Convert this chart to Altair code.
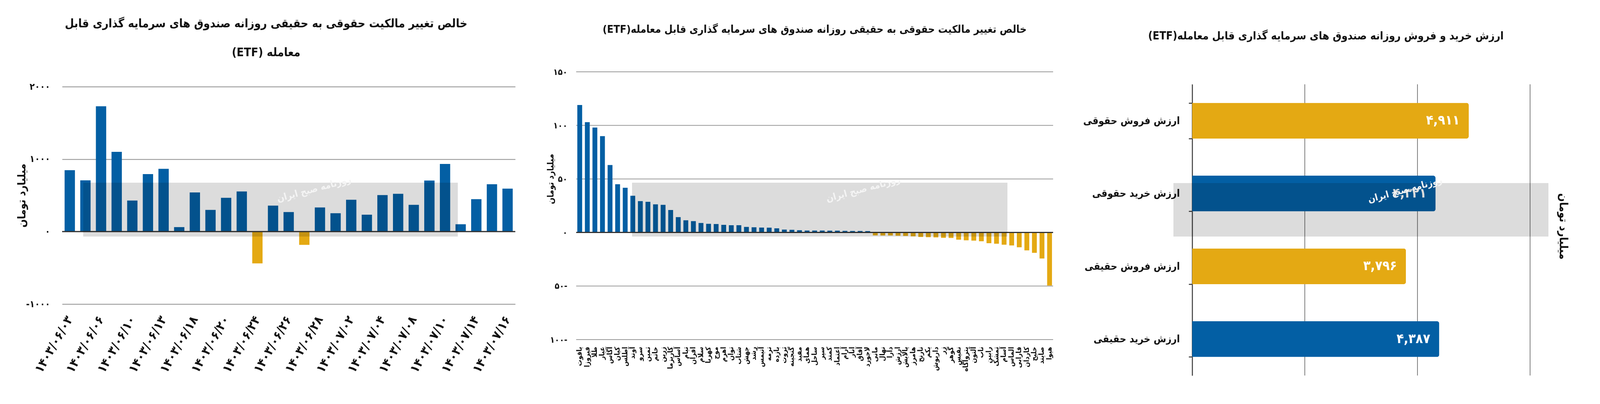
import altair as alt
import pandas as pd

FONT = "DejaVu Sans Condensed, DejaVu Sans, sans-serif"
BLUE = "#035fa4"
GOLD = "#e4a913"
RLE, PDF = "\u202b", "\u202c"

# ---------------- panel 1 : daily net change (by date) ----------------
DATES = ["۱۴۰۳/۰۶/۰۳", "۱۴۰۳/۰۶/۰۵", "۱۴۰۳/۰۶/۰۶", "۱۴۰۳/۰۶/۰۷", "۱۴۰۳/۰۶/۱۰",
         "۱۴۰۳/۰۶/۱۱", "۱۴۰۳/۰۶/۱۳", "۱۴۰۳/۰۶/۱۷", "۱۴۰۳/۰۶/۱۸", "۱۴۰۳/۰۶/۱۹",
         "۱۴۰۳/۰۶/۲۰", "۱۴۰۳/۰۶/۲۱", "۱۴۰۳/۰۶/۲۴", "۱۴۰۳/۰۶/۲۵", "۱۴۰۳/۰۶/۲۶",
         "۱۴۰۳/۰۶/۲۷", "۱۴۰۳/۰۶/۲۸", "۱۴۰۳/۰۶/۳۱", "۱۴۰۳/۰۷/۰۲", "۱۴۰۳/۰۷/۰۳",
         "۱۴۰۳/۰۷/۰۴", "۱۴۰۳/۰۷/۰۷", "۱۴۰۳/۰۷/۰۸", "۱۴۰۳/۰۷/۰۹", "۱۴۰۳/۰۷/۱۰",
         "۱۴۰۳/۰۷/۱۱", "۱۴۰۳/۰۷/۱۴", "۱۴۰۳/۰۷/۱۵", "۱۴۰۳/۰۷/۱۶"]
NET_DAILY = [847, 707, 1730, 1100, 428, 794, 866, 62, 541, 300, 466, 554, -439, 358, 270,
             -183, 333, 254, 439, 234, 504, 522, 370, 705, 933, 102, 448, 654, 593]
DATE_TICKS = ["۱۴۰۳/۰۶/۰۳", "۱۴۰۳/۰۶/۰۶", "۱۴۰۳/۰۶/۱۰", "۱۴۰۳/۰۶/۱۳", "۱۴۰۳/۰۶/۱۸",
              "۱۴۰۳/۰۶/۲۰", "۱۴۰۳/۰۶/۲۴", "۱۴۰۳/۰۶/۲۶", "۱۴۰۳/۰۶/۲۸", "۱۴۰۳/۰۷/۰۲",
              "۱۴۰۳/۰۷/۰۴", "۱۴۰۳/۰۷/۰۸", "۱۴۰۳/۰۷/۱۰", "۱۴۰۳/۰۷/۱۴", "۱۴۰۳/۰۷/۱۶"]
Y1_TICKS = [-1000, 0, 1000, 2000]
Y1_LABELS = ["-۱۰۰۰", "۰", "۱۰۰۰", "۲۰۰۰"]
TITLE1 = ["خالص تغییر مالکیت حقوقی به حقیقی روزانه صندوق های سرمایه گذاری قابل",
          RLE + "معامله (ETF)" + PDF]

# ---------------- panel 2 : net change by fund ----------------
FUNDS = ["یاقوت", "فیروزا", "طلا", "عیار", "آگاس", "کیان", "اطلس", "آوند", "سرو", "ثمین",
         "خاتم", "زرین", "کاریزما", "آساس", "تیام", "افران", "سلام", "کهربا", "موج", "اهرم",
         "توان", "شتاب", "جهش", "رشد", "آتیمس", "ترمه", "بازده", "ثروت", "گنجینه", "مفید",
         "همای", "ساحل", "سپر", "کمند", "اعتماد", "آرام", "انار", "آفاق", "لاجورد", "مانی",
         "نهال", "دارا", "ارزش", "پالایش", "هامرز", "نارنج", "یکم", "داریوش", "زر", "گوهر",
         "نفیس", "پتروآگاه", "آلتون", "ناب", "رابین", "تمشک", "آسام", "الماس", "فارابی",
         "کاردان", "خلیج", "صایند", "هیوا"]
FUND_NET = [119, 103, 98, 90, 63, 45, 41.8, 34.3, 29.3, 28.6, 26.3, 25.8, 21, 14.3, 11.4,
            10.6, 8.9, 8.1, 7.9, 7.1, 6.8, 6.8, 5.2, 4.9, 4.6, 4.5, 3.9, 2.7, 2.5, 2.1,
            1.8, 1.8, 1.8, 1.7, 1.7, 1.5, 1.4, 1.4, 1.3,
            -2.7, -2.8, -2.8, -3.0, -3.2, -3.6, -4.2, -4.4, -4.6, -5.0, -5.1, -6.7, -7.3,
            -7.6, -8.2, -10.0, -10.5, -11.4, -12.1, -13.8, -16.7, -19.0, -24.3, -49.5]
Y2_TICKS = [-100, -50, 0, 50, 100, 150]
Y2_LABELS = ["۱۰۰-", "۵۰-", "۰", "۵۰", "۱۰۰", "۱۵۰"]
TITLE2 = RLE + "خالص تغییر مالکیت حقوقی به حقیقی روزانه صندوق های سرمایه گذاری قابل معامله(ETF)" + PDF

# ---------------- panel 3 : buy / sell values ----------------
CATS = ["ارزش فروش حقوقی", "ارزش خرید حقوقی", "ارزش فروش حقیقی", "ارزش خرید حقیقی"]
KINDS = ["فروش", "خرید", "فروش", "خرید"]
VALUES = [4911, 4321, 3796, 4387]
VALUE_LABELS = ["۴,۹۱۱", "۴,۳۲۱", "۳,۷۹۶", "۴,۳۸۷"]
X3_TICKS = [0, 2000, 4000, 6000]
TITLE3 = RLE + "ارزش خرید و فروش روزانه صندوق های سرمایه گذاری قابل معامله(ETF)" + PDF

UNIT = "میلیارد تومان"
STAMP = "روزنامه صبح ایران"

NO_VIEW = alt.ViewBackground(stroke="transparent", strokeWidth=0)


def label_expr(values, labels):
    expr = "''"
    for v, l in reversed(list(zip(values, labels))):
        expr = f"datum.value == {v} ? '{l}' : ({expr})"
    return expr


def watermark(x, x2, y, y2, sx, sy):
    one = pd.DataFrame({"k": [0]})
    rect = alt.Chart(one).mark_rect(fill="#dcdcdc", blend="multiply").encode(
        x=alt.value(x), x2=alt.value(x2), y=alt.value(y), y2=alt.value(y2))
    stamp = alt.Chart(one).mark_text(text=STAMP, angle=345, color="#f4f4f4", fontSize=24,
                                     font=FONT, fontWeight="bold").encode(
        x=alt.value(sx), y=alt.value(sy))
    return [rect, stamp]


sign_color = alt.condition(alt.datum.value < 0, alt.value(GOLD), alt.value(BLUE))

# ---- panel 1  (plot x 159..1319, rows 184..779; 2000 sits at 222)
df1 = pd.DataFrame({"date": DATES, "value": NET_DAILY})
bars1 = alt.Chart(df1).mark_bar().encode(
    x=alt.X("date:N", sort=DATES, scale=alt.Scale(paddingInner=0.34, paddingOuter=0.16),
            axis=alt.Axis(values=DATE_TICKS, labelAngle=300, labelAlign="right",
                          labelBaseline="middle", labelFontSize=32, labelPadding=33,
                          domain=False, ticks=False, grid=False, title=None,
                          labelOverlap=False, labelLimit=400)),
    y=alt.Y("value:Q", scale=alt.Scale(domain=[-1000, 2000], nice=False, range=[595, 38]),
            axis=alt.Axis(values=Y1_TICKS, labelExpr=label_expr(Y1_TICKS, Y1_LABELS),
                          grid=True, gridColor="#8e8e8e", gridWidth=2, domain=False,
                          ticks=False, labelFontSize=24, labelPadding=31, title=UNIT,
                          titleFontSize=28, titlePadding=9, minExtent=80, maxExtent=80)),
    color=sign_color,
)
zero1 = alt.Chart(pd.DataFrame({"value": [0]})).mark_rule(color="#333333", strokeWidth=3).encode(
    y="value:Q")
panel1 = alt.layer(bars1, zero1, *watermark(54, 1013, 284, 422, 645, 301)).properties(
    width=1160, height=595, view=NO_VIEW,
    title=alt.TitleParams(TITLE1, fontSize=30, lineHeight=74, anchor="middle", frame="bounds",
                          offset=34, color="#111111"))

# ---- panel 2  (plot x 1475..2696, rows 184..870); group is wider, scale range keeps the plot
W2 = 1221
df2 = pd.DataFrame({"fund": FUNDS, "value": FUND_NET})
y2 = alt.Y("value:Q", scale=alt.Scale(domain=[-100, 150], nice=False),
           axis=alt.Axis(values=Y2_TICKS, labelExpr=label_expr(Y2_TICKS, Y2_LABELS),
                         grid=False, domain=False, ticks=False, labelFontSize=22,
                         labelPadding=23, title=UNIT, titleFontSize=22, titlePadding=3,
                         titleY=274, minExtent=51, maxExtent=51))
grid2 = alt.Chart(pd.DataFrame({"value": Y2_TICKS})).mark_rule(
    color="#9a9a9a", strokeWidth=2).encode(y=y2, x=alt.value(0), x2=alt.value(W2))
bars2 = alt.Chart(df2).mark_bar().encode(
    x=alt.X("fund:N", sort=FUNDS,
            scale=alt.Scale(paddingInner=0.36, paddingOuter=0.15, range=[0, W2]),
            axis=alt.Axis(labelAngle=270, labelAlign="right", labelBaseline="middle",
                          labelFontSize=18, labelPadding=18, domain=False, ticks=False,
                          grid=False, title=None, labelOverlap=False)),
    y=y2,
    color=sign_color,
)
zero2 = alt.Chart(pd.DataFrame({"value": [0]})).mark_rule(color="#333333", strokeWidth=3).encode(
    y="value:Q", x=alt.value(0), x2=alt.value(W2))
panel2 = alt.layer(grid2, bars2, zero2, *watermark(143, 1104, 284, 422, 735, 301)).properties(
    width=W2 + 200, height=686, view=NO_VIEW,
    title=alt.TitleParams(TITLE2, fontSize=27, anchor="middle", frame="group", dx=-100,
                          offset=83, color="#111111"))

# ---- panel 3  (plot x 3052..3917, rows 184..962; bands from 216)
df3 = pd.DataFrame({"cat": CATS, "kind": KINDS, "value": VALUES, "label": VALUE_LABELS})
base3 = alt.Chart(df3).encode(
    y=alt.Y("cat:N", sort=CATS,
            scale=alt.Scale(paddingInner=0.51, paddingOuter=0.255, range=[32, 778]),
            axis=alt.Axis(title=None, labelFontSize=26, labelPadding=23, tickBand="extent",
                          tickSize=9, tickWidth=2.5, tickColor="#333333", domainColor="#333333",
                          domainWidth=2.5, grid=False, labelLimit=500)),
)
xs3 = alt.X("value:Q", scale=alt.Scale(domain=[0, 6000], nice=False),
            axis=alt.Axis(labels=False, ticks=False, domain=False, grid=False, title=None))
grid3 = alt.Chart(pd.DataFrame({"value": X3_TICKS})).mark_rule(
    color="#555555", strokeWidth=1.5).encode(x=xs3, y=alt.value(32), y2=alt.value(778))
bars3 = base3.mark_bar(cornerRadiusEnd=6).encode(
    x=xs3,
    color=alt.Color("kind:N", scale=alt.Scale(domain=["فروش", "خرید"], range=[GOLD, BLUE]),
                    legend=None),
)
text3 = base3.mark_text(align="right", dx=-23, color="white", fontSize=34, fontWeight="bold",
                        font=FONT).encode(x="value:Q", text="label:N")
unit3 = alt.Chart(pd.DataFrame({"k": [0]})).mark_text(
    text=UNIT, angle=90, fontSize=29, fontWeight="bold", font=FONT, color="#111111").encode(
    x=alt.value(950), y=alt.value(396))
panel3 = alt.layer(grid3, bars3, text3, unit3, *watermark(-48, 912, 285, 422, 545, 303)).properties(
    width=865, height=778, view=NO_VIEW,
    title=alt.TitleParams(TITLE3, fontSize=28, anchor="middle", frame="bounds",
                          offset=64, color="#111111"))

# flush layout: plots sit at fixed places; the top-level pad adds the overhanging
# titles/axes (about 117 px left and 138 px above the plots) to this padding
chart = alt.hconcat(panel1, panel2, panel3, spacing=156, bounds="flush").properties(
    padding={"left": 34, "top": 38, "right": 0, "bottom": 0},
    background="white",
).configure_view(strokeWidth=0, strokeOpacity=0).configure(font=FONT).configure_axis(
    labelFont=FONT, titleFont=FONT, labelFontWeight="bold", titleFontWeight="bold",
    labelColor="#111111", titleColor="#111111",
).configure_title(font=FONT, fontWeight="bold")

chart.save("out.html", embed_options={"renderer": "svg", "actions": False})
